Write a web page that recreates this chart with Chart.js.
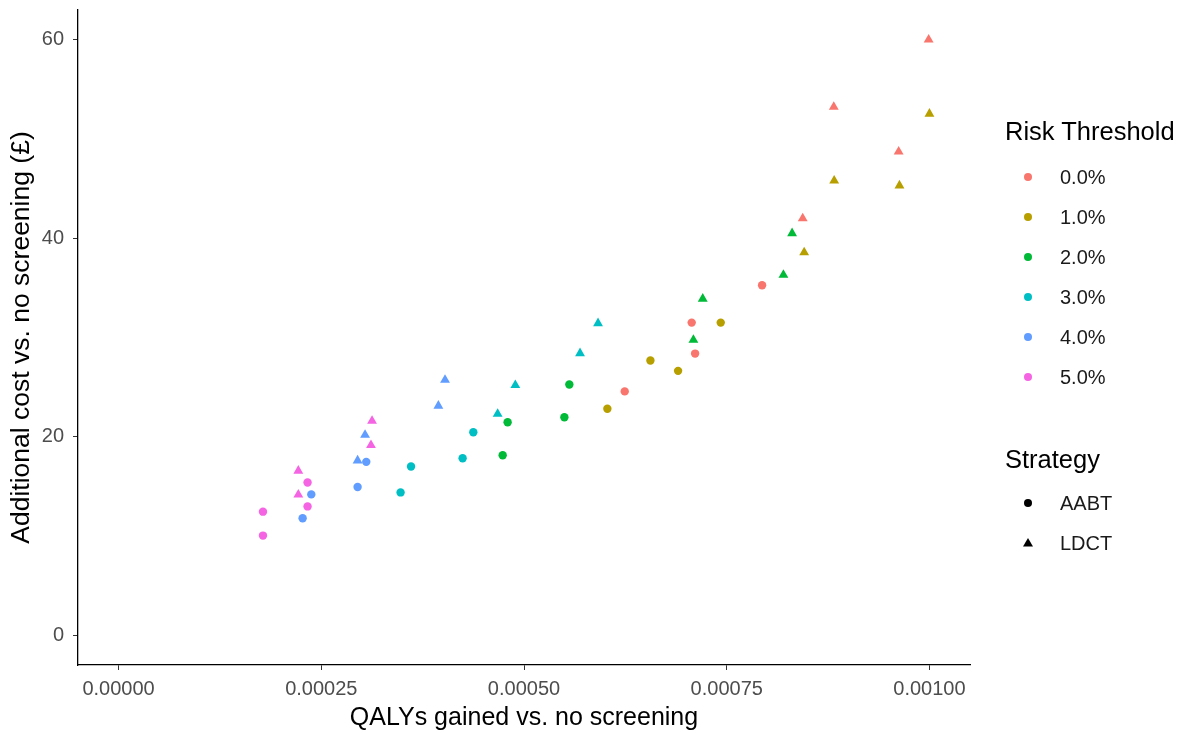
<!DOCTYPE html>
<html>
<head>
<meta charset="utf-8">
<script src="https://cdn.jsdelivr.net/npm/chart.js@4.4.1/dist/chart.umd.min.js"></script>
<style>
  html, body { margin: 0; padding: 0; background: #fff; }
  #wrap { position: relative; width: 1194px; height: 733px; font-family: "Liberation Sans", Arial, sans-serif; }
  #chart { position: absolute; left: 0; top: 0; }
  .legend { position: absolute; left: 1005px; color: #000; }
  .legend .title { font-size: 25.5px; line-height: 30px; }
  .legend .item { position: relative; height: 40px; line-height: 40px; font-size: 20px; padding-left: 55px; color: #1a1a1a; }
  .legend svg { position: absolute; left: 15px; top: 12px; }
</style>
</head>
<body>
<div id="wrap">
  <canvas id="chart" width="1194" height="733"></canvas>
  <div class="legend" id="riskLegend" style="top:116px;"></div>
  <div class="legend" id="stratLegend" style="top:444px;"></div>
</div>
<script>
/* === DATA === */
const thresholds = ["0.0%", "1.0%", "2.0%", "3.0%", "4.0%", "5.0%"];
const strategies = ["AABT", "LDCT"];
const palette = ["#F8766D", "#B79F00", "#00BA38", "#00BFC4", "#619CFF", "#F564E3"];

const xTicks = [0, 0.00025, 0.0005, 0.00075, 0.001];
const yTicks = [0, 20, 40, 60];

// QALYs gained per threshold, AABT strategy
const aabtQaly = [
  [0.0006242, 0.0007068, 0.000711, 0.0007936],
  [0.0006028, 0.0006559, 0.00069, 0.0007426],
  [0.0004737, 0.0004798, 0.0005498, 0.0005559],
  [0.0003478, 0.0003607, 0.0004243, 0.0004375],
  [0.000227, 0.0002377, 0.0002948, 0.0003055],
  [0.0001781, 0.0001781, 0.0002331, 0.0002331],
];
// additional cost per threshold, AABT strategy
const aabtCost = [
  [24.57, 31.5, 28.38, 35.27],
  [22.82, 27.68, 26.64, 31.5],
  [18.14, 21.46, 21.96, 25.27],
  [14.39, 17.0, 17.84, 20.45],
  [11.78, 14.19, 14.93, 17.47],
  [10.04, 12.45, 12.98, 15.39],
];
// QALYs gained per threshold, LDCT strategy
const ldctQaly = [
  [0.0008437, 0.000882, 0.000962, 0.000999],
  [0.0008455, 0.0008825, 0.000963, 0.001],
  [0.0007089, 0.0007204, 0.0008199, 0.0008306],
  [0.0004675, 0.0004893, 0.0005691, 0.0005913],
  [0.0002948, 0.000304, 0.0003944, 0.0004026],
  [0.0002217, 0.0002217, 0.0003113, 0.0003126],
];
// additional cost per threshold, LDCT strategy
const ldctCost = [
  [42.0, 53.24, 48.72, 60.0],
  [38.58, 45.81, 45.31, 52.54],
  [29.75, 33.9, 36.3, 40.5],
  [22.29, 25.2, 28.41, 31.43],
  [17.6, 20.18, 23.12, 25.73],
  [14.16, 16.57, 19.15, 21.59],
];

/* === BUILD DATASETS === */
const toPoints = (xs, ys) => xs.map((x, i) => ({ x: x, y: ys[i] }));
const datasets = [];
thresholds.forEach((t, k) => {
  datasets.push({
    label: t + " AABT",
    data: toPoints(aabtQaly[k], aabtCost[k]),
    pointStyle: "circle",
    pointRadius: 4.2,
    pointBorderWidth: 0,
    backgroundColor: palette[k],
    borderColor: palette[k],
  });
  datasets.push({
    label: t + " LDCT",
    data: toPoints(ldctQaly[k], ldctCost[k]),
    pointStyle: "triangle",
    pointRadius: 5.7,
    pointBorderWidth: 0,
    backgroundColor: palette[k],
    borderColor: palette[k],
  });
});

const FONT = "'Liberation Sans', Arial, sans-serif";
const tickFont = { family: FONT, size: 20 };

const axisCommon = {
  grid: { display: true, drawOnChartArea: false, drawTicks: true, tickLength: 5, color: "#333333", lineWidth: 1 },
  border: { display: true, color: "#000000", width: 1.3 },
};

new Chart(document.getElementById("chart").getContext("2d"), {
  type: "scatter",
  data: { datasets: datasets },
  options: {
    responsive: false,
    animation: false,
    layout: { padding: { left: 0, top: 10, right: 224, bottom: 0 } },
    plugins: { legend: { display: false }, tooltip: { enabled: false } },
    scales: {
      x: {
        type: "linear",
        min: -0.00005,
        max: 0.00105,
        ...axisCommon,
        afterBuildTicks: (scale) => { scale.ticks = xTicks.map((v) => ({ value: v })); },
        afterFit: (scale) => { scale.height = 68; },
        ticks: {
          color: "#4D4D4D",
          font: tickFont,
          padding: 7,
          maxRotation: 0,
          callback: (v) => Number(v).toFixed(5),
        },
        title: { display: true, text: "QALYs gained vs. no screening", color: "#000", font: { family: FONT, size: 25 }, padding: { top: 0, bottom: 0 } },
      },
      y: {
        type: "linear",
        min: -3,
        max: 63,
        ...axisCommon,
        afterBuildTicks: (scale) => { scale.ticks = yTicks.map((v) => ({ value: v })); },
        afterFit: (scale) => {
          scale.width = 78;
          scale.paddingTop = 0;
          scale.paddingBottom = 0;
        },
        ticks: { color: "#4D4D4D", font: tickFont, padding: 9, callback: (v) => String(v) },
        title: { display: true, text: "Additional cost vs. no screening (£)", color: "#000", font: { family: FONT, size: 26.5 }, padding: { top: 6, bottom: 0 } },
      },
    },
  },
});

/* === LEGENDS (HTML) === */
function marker(shape, color) {
  if (shape === "circle")
    return `<svg width="16" height="16"><circle cx="8" cy="8" r="4" fill="${color}"/></svg>`;
  return `<svg width="16" height="16"><polygon points="8,3 13,11.5 3,11.5" fill="${color}"/></svg>`;
}
const risk = document.getElementById("riskLegend");
risk.innerHTML = `<div class="title">Risk Threshold</div><div style="height:11px"></div>` +
  thresholds.map((t, k) => `<div class="item">${marker("circle", palette[k])}${t}</div>`).join("");
const strat = document.getElementById("stratLegend");
strat.innerHTML = `<div class="title">Strategy</div><div style="height:9px"></div>` +
  strategies.map((s, k) => `<div class="item">${marker(k === 0 ? "circle" : "triangle", "#000")}${s}</div>`).join("");
</script>
</body>
</html>
